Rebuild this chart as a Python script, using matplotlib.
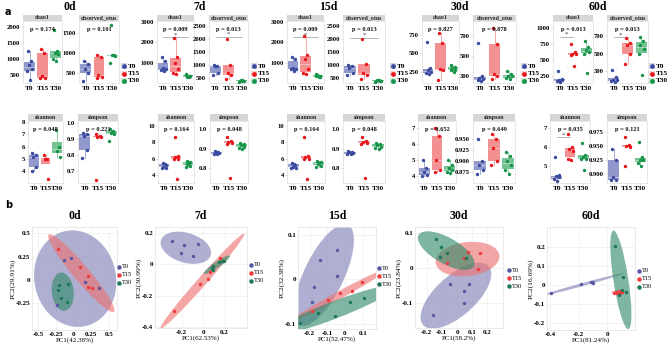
import numpy as np
import matplotlib
matplotlib.use('Agg')
import matplotlib.pyplot as plt
from matplotlib.patches import Ellipse, Rectangle

W, H = 669, 348
SERIF = 'Liberation Serif'

groups = ['T0', 'T15', 'T30']
days = ['0d', '7d', '15d', '30d', '60d']

# ---------------- alpha diversity data: [T0, T15, T30] ----------------
chao1_0d = [[1250, 950, 820, 700, 620, 350], [1300, 1200, 460, 420, 400], [1900, 1250, 1200, 1150, 1000, 950]]
chao1_7d = [[1300, 1100, 720, 700, 650, 600], [2200, 1300, 1000, 700, 500, 450], [400, 350, 300, 350, 420, 300]]
chao1_15d = [[1300, 1200, 720, 700, 700, 600], [2300, 1400, 1200, 700, 500, 450], [350, 300, 400, 350, 420, 300]]
chao1_30d = [[650, 300, 270, 250, 230, 220], [780, 640, 290, 280, 140], [350, 320, 300, 280, 270, 250]]
chao1_60d = [[320, 200, 190, 180, 170, 160], [750, 620, 600, 600, 580, 400], [800, 700, 650, 620, 600, 300]]

otus_0d = [[800, 720, 600, 500, 300], [950, 900, 450, 400, 380], [1700, 950, 940, 920, 750]]
otus_7d = [[1000, 950, 950, 700, 600], [2000, 1000, 700, 600, 450], [400, 380, 420, 400, 350, 430]]
otus_15d = [[1000, 950, 900, 700, 600], [2000, 1050, 700, 600, 450], [400, 380, 420, 400, 350, 430]]
otus_30d = [[630, 300, 280, 270, 260, 250], [780, 620, 320, 300, 270], [350, 320, 300, 300, 280, 270]]
otus_60d = [[310, 230, 200, 190, 180, 170], [680, 620, 600, 500, 380], [690, 640, 600, 550, 500, 250]]

shannon_0d = [[5.5, 5.3, 5.1, 4.3, 4.0], [5.3, 5.0, 5.0, 3.3], [7.4, 6.0, 5.6, 5.1]]
shannon_7d = [[5.4, 5.2, 5.0, 4.9, 4.8, 5.3], [8.6, 6.3, 6.2, 6.0, 5.9, 3.5], [5.7, 5.6, 5.3, 5.1, 5.0, 5.5]]
shannon_15d = [[5.4, 5.2, 5.0, 4.9, 4.8, 5.3], [8.6, 6.3, 6.2, 6.0, 5.9, 3.5], [5.7, 5.6, 5.3, 5.1, 5.0, 5.5]]
shannon_30d = [[5.0, 4.5, 4.3, 4.1, 4.0], [7.0, 6.5, 5.0, 4.4, 4.3], [5.0, 4.7, 4.5, 4.4, 4.3, 4.2]]
shannon_60d = [[5.5, 4.5, 4.45, 4.4, 4.3, 4.2], [6.7, 6.0, 5.9, 5.8, 5.4, 5.3], [6.2, 5.6, 5.5, 5.4, 5.4, 4.8]]

simpson_0d = [[0.94, 0.93, 0.92, 0.83, 0.78], [0.93, 0.92, 0.91, 0.91, 0.64], [0.96, 0.95, 0.94, 0.93, 0.89]]
simpson_7d = [[0.89, 0.885, 0.88, 0.875, 0.87, 0.87], [0.96, 0.94, 0.935, 0.93, 0.925, 0.75], [0.93, 0.925, 0.92, 0.91, 0.905, 0.90]]
simpson_15d = [[0.89, 0.885, 0.88, 0.875, 0.87, 0.87], [0.96, 0.94, 0.935, 0.93, 0.925, 0.75], [0.93, 0.925, 0.92, 0.91, 0.905, 0.90]]
simpson_30d = [[0.95, 0.90, 0.89, 0.88, 0.87], [0.96, 0.95, 0.93, 0.90, 0.89], [0.92, 0.91, 0.90, 0.89, 0.88, 0.87]]
simpson_60d = [[0.945, 0.925, 0.895, 0.89, 0.89], [0.965, 0.952, 0.95, 0.948, 0.915], [0.957, 0.93, 0.925, 0.925, 0.92, 0.915]]

p_chao1 = ['0.174', '0.009', '0.009', '0.827', '0.013']
p_otus = ['0.101', '0.013', '0.013', '0.878', '0.013']
p_shannon = ['0.048', '0.164', '0.164', '0.652', '0.035']
p_simpson = ['0.221', '0.048', '0.048', '0.649', '0.121']

# significance brackets: (group index a, group index b, height)
br_chao1 = [[], [(1, 3, 2250)], [(1, 3, 2250)], [], [(1, 2, 860)]]
br_otus = [[], [(1, 3, 2080)], [(1, 3, 2050)], [], [(1, 2, 690)]]
br_shannon = [[], [], [], [], [(1, 2, 6.52)]]
br_simpson = [[], [], [], [], []]

# ---------------- PCoA data ----------------
pc1_label = ['PC1(42.38%)', 'PC1(62.53%)', 'PC1(52.47%)', 'PC1(58.2%)', 'PC1(81.24%)']
pc2_label = ['PC2(29.91%)', 'PC2(30.99%)', 'PC2(32.38%)', 'PC2(23.84%)', 'PC2(16.69%)']

pca_0d_x = [[-0.137, -0.042, 0.16, 0.359, -0.231], [-0.217, 0.09, 0.207, 0.207, 0.255], [-0.203, -0.076, -0.217, -0.179, -0.098]]
pca_0d_y = [[0.214, 0.232, -0.018, -0.089, -0.267], [0.329, 0.143, 0.047, -0.071, -0.082], [-0.053, -0.042, -0.107, -0.189, -0.232]]
pca_7d_x = [[-0.288, -0.175, -0.044, -0.209, -0.091], [0.153, 0.066, 0.044, -0.028, -0.269], [0.081, 0.091, 0.144, 0.175, 0.197, 0.088]]
pca_7d_y = [[0.151, 0.123, 0.131, 0.070, 0.053], [0.038, -0.051, -0.094, -0.128, -0.298], [-0.022, -0.011, 0.013, 0.021, 0.021, -0.036]]
pca_15d_x = [[-0.045, -0.141, -0.045, -0.175, -0.186], [0.096, 0.040, -0.028, -0.096, -0.186], [-0.254, -0.152, -0.056, 0.028, 0.107]]
pca_15d_y = [[0.066, 0.044, 0.008, -0.017, -0.051], [-0.006, -0.026, -0.031, -0.047, -0.071], [-0.098, -0.076, -0.083, -0.051, -0.042]]
pca_30d_x = [[-0.045, 0.079, 0.043, 0.043, -0.156], [0.075, 0.150, -0.064, 0.137, 0.047], [-0.135, -0.103, -0.066, -0.109, 0.058]]
pca_30d_y = [[-0.046, -0.046, -0.065, -0.100, -0.135], [0.046, 0.043, 0.014, -0.002, 0.030], [0.084, 0.062, 0.043, 0.033, 0.030]]
pca_60d_x = [[-0.393, -0.183, -0.114, -0.103, -0.108], [0.06, 0.07, 0.08, 0.09, 0.10, 0.05], [0.052, 0.107, 0.103, 0.132, 0.080]]
pca_60d_y = [[-0.044, 0.004, 0.017, 0.012, 0.015], [-0.035, -0.04, -0.03, -0.04, -0.035, -0.04], [0.205, 0.044, -0.026, -0.035, -0.053]]

# ---------------- styles ----------------
pt_col = ['#3a4a9e', '#e8161b', '#17934a']
box_col = ['#7e86c4', '#f27d7f', '#5cba80']
pca_fill = ['#7f7fb5', '#ee7070', '#2f8a68']
pca_pt = ['#5757a3', '#ee3a3c', '#1f7656']
jit = np.array([-0.12, 0.15, -0.05, 0.2, -0.18, 0.06, 0.0])

fig = plt.figure(figsize=(W / 100, H / 100), dpi=100)


def px_axes(x0, y0, x1, y1):
    return fig.add_axes([x0 / W, 1 - y1 / H, (x1 - x0) / W, (y1 - y0) / H])


def box_panel(box, label, data, ylim, yticks, yfmt, pval, brackets):
    x0, y0, x1, y1 = box
    ax = px_axes(x0, y0, x1, y1)
    for i, vals in enumerate(data):
        vals = np.asarray(vals, float)
        ax.boxplot([vals], positions=[i + 1], widths=0.82, patch_artist=True,
                   showfliers=False, showcaps=False,
                   boxprops=dict(facecolor=box_col[i], edgecolor='none', alpha=0.85),
                   whiskerprops=dict(color=box_col[i], lw=0.6, alpha=0.8),
                   medianprops=dict(color='white', lw=0.6, alpha=0.5))
        ax.scatter(i + 1 + jit[:len(vals)], vals, s=6, color=pt_col[i], lw=0, zorder=3)
    for a, b, h in brackets:
        ax.plot([a, b], [h, h], color='#9a9a9a', lw=0.5, zorder=2)
        ax.text((a + b) / 2, h, '*', ha='center', va='bottom', fontsize=5,
                family=SERIF, color='#444444')
    ax.set_xlim(0.5, 3.5)
    ax.set_ylim(*ylim)
    ax.set_yticks(yticks)
    ax.set_yticklabels([yfmt.format(v) for v in yticks], fontsize=4.8, family=SERIF,
                       fontweight='bold')
    ax.set_xticks([1, 2, 3])
    ax.set_xticklabels(groups, fontsize=5.3, family=SERIF, fontweight='bold')
    ax.tick_params(length=1.2, width=0.4, color='#bbbbbb', pad=1)
    for s in ax.spines.values():
        s.set_color('#dedede')
        s.set_linewidth(0.5)
    # strip
    sh = 6.5 / (y1 - y0)
    ax.add_patch(Rectangle((0, 1), 1, sh, transform=ax.transAxes, clip_on=False,
                           facecolor='#d6d6d6', edgecolor='none'))
    ax.text(0.5, 1 + sh / 2, label, transform=ax.transAxes, ha='center', va='center',
            fontsize=4.2, family=SERIF, fontweight='bold', color='#222222')
    ax.text(0.5, 0.86, 'p = ' + pval, transform=ax.transAxes, ha='center', va='center',
            fontsize=4.6, family=SERIF, fontweight='bold', color='#111111')
    return ax


def legend_box(x, y0, dy):
    for i, g in enumerate(groups):
        yy = 1 - (y0 + i * dy) / H
        fig.add_artist(Rectangle((x / W - 2.8 / W, yy - 2.8 / H), 5.6 / W, 5.6 / H,
                                 transform=fig.transFigure, facecolor=box_col[i],
                                 alpha=0.35, edgecolor='none'))
        fig.add_artist(plt.Line2D([x / W], [yy], marker='o', ms=2.4, color=pt_col[i],
                                  lw=0, transform=fig.transFigure))
        fig.text((x + 4.0) / W, yy, g, ha='left', va='center', fontsize=5.2,
                 family=SERIF, fontweight='bold')


def ellipse_params(x, y):
    cov = np.cov(x, y)
    vals, vecs = np.linalg.eigh(cov)
    r = np.sqrt(-2 * np.log(0.05))
    vals = np.clip(vals, 1e-12, None)
    w = 2 * r * np.sqrt(vals[1])
    h = 2 * r * np.sqrt(vals[0])
    ang = np.degrees(np.arctan2(vecs[1, 1], vecs[0, 1]))
    return (np.mean(x), np.mean(y)), w, h, ang


def pca_panel(box, title, xs, ys, xlim, ylim, xticks, xtl, yticks, ytl, xl, yl, leg):
    x0, y0, x1, y1 = box
    ax = px_axes(x0, y0, x1, y1)
    for i in range(3):
        c, w, h, a = ellipse_params(np.asarray(xs[i]), np.asarray(ys[i]))
        ax.add_patch(Ellipse(c, w, h, angle=a, facecolor=pca_fill[i], alpha=0.62,
                             edgecolor='none', zorder=1 + i))
    for i in range(3):
        ax.scatter(xs[i], ys[i], s=6, color=pca_pt[i], lw=0, zorder=5)
    ax.set_xlim(*xlim)
    ax.set_ylim(*ylim)
    ax.set_xticks(xticks)
    ax.set_xticklabels(xtl, fontsize=5, family=SERIF, fontweight='bold')
    ax.set_yticks(yticks)
    ax.set_yticklabels(ytl, fontsize=5, family=SERIF, fontweight='bold')
    ax.tick_params(length=0, pad=1.2)
    ax.grid(True, color='#eeeeee', lw=0.5)
    ax.set_axisbelow(True)
    for s in ax.spines.values():
        s.set_color('#e2e2e2')
        s.set_linewidth(0.5)
    ax.set_xlabel(xl, fontsize=5, family=SERIF, labelpad=0.5)
    ax.set_ylabel(yl, fontsize=5.3, family=SERIF, labelpad=0.3)
    ax.set_title(title, fontsize=8.5, family=SERIF, fontweight='bold', pad=6)
    lx, ly = leg
    for i, g in enumerate(groups):
        yy = 1 - (ly + i * 8) / H
        fig.add_artist(plt.Line2D([lx / W], [yy], marker='o', ms=2.2, color=pca_pt[i],
                                  lw=0, transform=fig.transFigure))
        fig.text((lx + 3.2) / W, yy, g, ha='left', va='center', fontsize=4.6, family=SERIF)
    return ax


# ---------------- top: alpha diversity ----------------
chao1_all = [chao1_0d, chao1_7d, chao1_15d, chao1_30d, chao1_60d]
otus_all = [otus_0d, otus_7d, otus_15d, otus_30d, otus_60d]
shannon_all = [shannon_0d, shannon_7d, shannon_15d, shannon_30d, shannon_60d]
simpson_all = [simpson_0d, simpson_7d, simpson_15d, simpson_30d, simpson_60d]

top_boxes = [((23, 62), (79, 119)), ((157, 194), (209, 248)), ((287, 324), (343, 385)),
             ((422, 459), (473, 516)), ((553, 593), (607, 648))]
bot_boxes = [((28, 63), (78, 118)), ((158, 194), (210, 248)), ((287, 325), (343, 385)),
             ((418, 456), (473, 515)), ((550, 590), (607, 647))]
title_x = [70, 200, 328, 460, 598]
legend_x = [124, 254, 393, 524, 652]

chao1_ylim = [(250, 2190), (0, 3050), (0, 3050), (100, 940), (140, 1110)]
chao1_ticks = [[500, 1000, 1500, 2000], [1000, 2000, 3000], [1000, 2000, 3000], [250, 500, 750], [250, 500, 750, 1000]]
otus_ylim = [(250, 1800), (310, 2700), (310, 2700), (230, 850), (160, 877)]
otus_ticks = [[500, 1000, 1500], [500, 1000, 1500, 2000, 2500], [500, 1000, 1500, 2000, 2500], [300, 500, 700], [300, 500, 700]]
shannon_ylim = [(3.0, 8.1), (3.0, 10.6), (3.0, 10.6), (3.6, 7.4), (4.1, 7.39)]
shannon_ticks = [[4, 5, 6, 7, 8], [4, 6, 8, 10], [4, 6, 8, 10], [4, 5, 6, 7], [5, 6, 7]]
simpson_ylim = [(0.623, 1.013), (0.725, 1.04), (0.725, 1.04), (0.85, 0.99), (0.884, 0.994)]
simpson_ticks = [[0.7, 0.8, 0.9, 1.0], [0.8, 0.9, 1.0], [0.8, 0.9, 1.0], [0.875, 0.900, 0.925, 0.950], [0.900, 0.925, 0.950, 0.975]]
simpson_fmt = ['{:.1f}', '{:.1f}', '{:.1f}', '{:.3f}', '{:.3f}']

for d in range(5):
    (a0, a1), (b0, b1) = top_boxes[d]
    box_panel((a0, 21, a1, 83), 'chao1', chao1_all[d], chao1_ylim[d], chao1_ticks[d], '{:g}',
              p_chao1[d], br_chao1[d])
    box_panel((b0, 21, b1, 83), 'observed_otus', otus_all[d], otus_ylim[d], otus_ticks[d], '{:g}',
              p_otus[d], br_otus[d])
    legend_box(legend_x[d], 66, 7.5)
    fig.text(title_x[d] / W, 1 - 7 / H, days[d], ha='center', va='center', fontsize=8.5,
             family=SERIF, fontweight='bold')
    (c0, c1), (e0, e1) = bot_boxes[d]
    box_panel((c0, 121, c1, 183), 'shannon', shannon_all[d], shannon_ylim[d], shannon_ticks[d], '{:g}',
              p_shannon[d], br_shannon[d])
    box_panel((e0, 121, e1, 183), 'simpson', simpson_all[d], simpson_ylim[d], simpson_ticks[d],
              simpson_fmt[d], p_simpson[d], br_simpson[d])

fig.text(5 / W, 1 - 12 / H, 'a', fontsize=7, fontweight='bold', family='DejaVu Sans', va='center')
fig.text(5 / W, 1 - 205 / H, 'b', fontsize=7, fontweight='bold', family='DejaVu Sans', va='center')

# ---------------- bottom: PCoA ----------------
pca_panel((32, 227, 117, 330), '0d', pca_0d_x, pca_0d_y, (-0.589, 0.613), (-0.535, 0.567),
          [-0.5, -0.25, 0, 0.25, 0.5], ['-0.5', '-0.25', '0', '0.25', '0.5'],
          [-0.25, 0, 0.25, 0.5], ['-0.25', '0', '0.25', '0.5'], pc1_label[0], pc2_label[0], (119, 267))
pca_panel((155, 227, 247, 328), '7d', pca_7d_x, pca_7d_y, (-0.45, 0.41), (-0.406, 0.238),
          [-0.2, 0, 0.2], ['-0.2', '0', '0.2'],
          [-0.4, -0.2, 0, 0.2], ['-0.4', '-0.2', '0', '0.2'], pc1_label[1], pc2_label[1], (251, 265))
pca_panel((298, 227, 376, 329), '15d', pca_15d_x, pca_15d_y, (-0.265, 0.175), (-0.112, 0.118),
          [-0.2, -0.1, 0, 0.1], ['-0.2', '-0.1', '0', '0.1'],
          [-0.1, 0, 0.1], ['-0.1', '0', '0.1'], pc1_label[2], pc2_label[2], (379, 268))
pca_panel((415, 227, 503, 328), '30d', pca_30d_x, pca_30d_y, (-0.276, 0.302), (-0.171, 0.118),
          [-0.2, -0.1, 0, 0.1, 0.2], ['-0.2', '-0.1', '0', '0.1', '0.2'],
          [-0.1, 0, 0.1], ['-0.1', '0', '0.1'], pc1_label[3], pc2_label[3], (509, 270))
pca_panel((547, 227, 635, 330), '60d', pca_60d_x, pca_60d_y, (-0.423, 0.194), (-0.237, 0.305),
          [-0.4, -0.2, 0], ['-0.4', '-0.2', '0'],
          [-0.2, -0.1, 0, 0.1, 0.2], ['-0.2', '-0.1', '0', '0.1', '0.2'], pc1_label[4], pc2_label[4], (639, 271))

fig.savefig('out.png', dpi=100)
